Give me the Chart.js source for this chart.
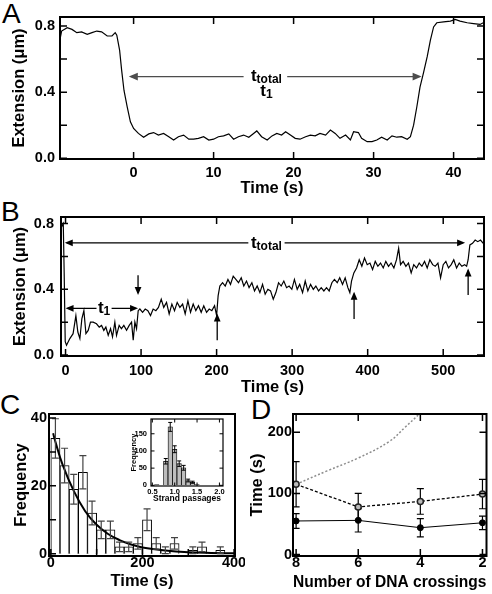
<!DOCTYPE html>
<html>
<head>
<meta charset="UTF-8">
<title>Strand passage traces</title>
<script src="https://cdn.jsdelivr.net/npm/chart.js"></script>
<style>
    body { margin: 0; background: #fff; width: 492px; height: 594px; position: relative; overflow: hidden;
           font-family: "Liberation Sans", Arial, sans-serif; }
    canvas { position: absolute; }
    .panel { position: absolute; font-size: 28px; line-height: 28px; color: #000; }
</style>
</head>
<body>
<div class="panel" style="left:2px;top:0px">A</div>
<div class="panel" style="left:1px;top:198px">B</div>
<div class="panel" style="left:0px;top:391px">C</div>
<div class="panel" style="left:251px;top:396px">D</div>

<canvas id="chA" width="492" height="198" style="left:0;top:0"></canvas>
<canvas id="chB" width="492" height="200" style="left:0;top:197px"></canvas>
<canvas id="chC" width="245" height="195" style="left:0;top:396px"></canvas>
<canvas id="chInset" width="100" height="88" style="left:125px;top:416px"></canvas>
<canvas id="chD" width="247" height="196" style="left:245px;top:396px"></canvas>

<script>
// ---- panel A : single passage trace
const aTime = [-9.2,-9.0,-8.3,-7.7,-7.1,-6.5,-5.8,-5.2,-4.6,-4.0,-3.3,-2.7,-2.3,-2.1,-1.75,-1.5,-1.2,-0.8,-0.4,0,
    0.6,1.25,1.9,2.5,3.1,3.75,4.4,5.0,5.6,6.25,6.9,7.5,8.1,8.75,9.4,10,10.6,11.25,11.9,12.5,
    13.1,13.75,14.4,15,15.4,16,16.7,17.3,17.9,18.5,19,19.6,20.2,20.8,21.5,22.1,22.7,23.3,24,24.6,
    25.2,25.8,26.5,27.1,27.5,28.1,28.5,29.2,29.8,30.4,31,31.7,32.3,32.9,33.5,34.2,34.6,35,35.4,35.8,
    36.25,36.7,37.1,37.5,37.9,38.75,39.6,40.2,40.8,41.7,42.5,43.3,43.9];
const aExt = [0.72,0.77,0.79,0.78,0.76,0.765,0.75,0.76,0.77,0.765,0.74,0.74,0.76,0.745,0.655,0.535,0.41,0.31,0.22,0.18,
    0.15,0.127,0.147,0.155,0.14,0.15,0.13,0.11,0.13,0.14,0.115,0.115,0.12,0.13,0.11,0.115,0.13,0.135,0.147,0.115,
    0.13,0.14,0.127,0.15,0.165,0.13,0.11,0.135,0.15,0.14,0.16,0.14,0.12,0.115,0.13,0.14,0.135,0.15,0.14,0.17,
    0.15,0.12,0.14,0.11,0.16,0.155,0.12,0.1,0.1,0.11,0.127,0.11,0.135,0.127,0.13,0.115,0.13,0.2,0.31,0.43,
    0.52,0.615,0.715,0.795,0.82,0.825,0.83,0.84,0.83,0.82,0.815,0.81,0.825];
const aXTicks = [0, 10, 20, 30, 40];
const aXLabels = ['0', '10', '20', '30', '40'];
const extTicks = [0, 0.2, 0.4, 0.6, 0.8];
const extLabels = ['0.0', '', '0.4', '', '0.8'];
const aArrowX = [-0.6, 36.0], aArrowY = 0.494, aGap = [13.75, 19.2], aLabelX = 16.6;

// ---- panel B : stepwise trace
const bTime = [-5.3,-3,-1.8,-0.4,1.3,5.7,10,13.7,16.3,19,
    21.6,24.3,27,30,33,36.6,41,44.6,47.7,50.7,
    53.4,56.5,59.6,62.2,65.3,67.5,71,74,77.2,80.8,
    84.3,87.4,89.6,91.8,94,96.2,98.4,102,105.5,109,
    112.5,116,119.6,123,126.7,130,133.7,137.2,140.8,144.3,
    147.8,151.4,155,158.4,162,165.5,169,172.5,176,179.6,
    183,186.7,190.2,193.7,197.3,200,202,204.3,207.9,211.4,
    215,218.4,222,225.5,229,232.6,236,239.6,243,246.7,
    250.2,253.7,257.3,260.8,264.3,267.9,271.4,275,278.5,282,
    285.5,289,292.6,296,299.6,303,306.7,310,313.8,317.3,
    320.8,324.4,328,331.4,335,338.5,342,345.5,349,352.6,
    356,359.7,363,366.7,370.2,373.8,376.4,378.6,381.7,385.3,
    388.8,392.3,395.8,399.4,403,406.5,410,413.5,417,420.6,
    424,427.6,431,434.7,438.2,441,443.5,447,450.6,454,
    457.6,461,464.7,468.2,471.8,475.3,478.8,482.3,486,489.4,
    493,496.5,500,503.5,507,510.6,514,517.7,521.2,524.7,
    528.3,531,533,535.3,538.8,542.3,545.8,549.4,553];
const bExt = [0.78,0.8,0.5,0.081,0.06,0.1,0.13,0.24,0.14,0.1,
    0.22,0.27,0.13,0.15,0.2,0.2,0.19,0.17,0.18,0.15,
    0.17,0.12,0.16,0.11,0.2,0.12,0.18,0.16,0.18,0.15,
    0.18,0.2,0.09,0.2,0.16,0.27,0.28,0.26,0.28,0.27,
    0.24,0.28,0.27,0.29,0.34,0.29,0.32,0.25,0.31,0.27,
    0.32,0.29,0.31,0.25,0.33,0.26,0.31,0.27,0.3,0.26,
    0.3,0.26,0.28,0.27,0.3,0.24,0.36,0.42,0.44,0.42,
    0.46,0.43,0.48,0.46,0.44,0.47,0.42,0.45,0.41,0.44,
    0.39,0.42,0.38,0.43,0.37,0.4,0.39,0.34,0.38,0.44,
    0.42,0.45,0.41,0.42,0.4,0.46,0.4,0.43,0.38,0.45,
    0.39,0.43,0.4,0.42,0.39,0.41,0.39,0.41,0.39,0.44,
    0.46,0.44,0.47,0.43,0.47,0.41,0.38,0.45,0.5,0.53,
    0.58,0.54,0.59,0.55,0.56,0.52,0.57,0.54,0.56,0.53,
    0.57,0.54,0.56,0.53,0.58,0.65,0.55,0.57,0.54,0.56,
    0.5,0.55,0.53,0.56,0.54,0.57,0.53,0.58,0.55,0.54,
    0.56,0.47,0.55,0.57,0.53,0.55,0.58,0.53,0.56,0.54,
    0.55,0.54,0.58,0.67,0.68,0.7,0.69,0.7,0.68];
const bXTicks = [0, 100, 200, 300, 400, 500];
const bXLabels = ['0', '100', '200', '300', '400', '500'];
const bTotalX = [-1, 529], bTotalY = 0.683, bTotalGap = [242, 290], bTotalLabelX = 266;
const bT1X = [0, 96], bT1Y = 0.284, bT1Gap = [41, 61], bT1LabelX = 51;
const bStepX = [96, 200.8, 382, 533];
const bStepFrom = [0.486, 0.09, 0.219, 0.365];
const bStepTo = [0.365, 0.253, 0.385, 0.527];

// ---- panel C : dwell time histogram
const cBinMid = [10,30,50,70,90,110,130,150,170,190,210,230,250,270,290,310,330,350,370,390];
const cCount = [34,26,19,24,12,7,7,2,2,3,10,3,1,3,0,1,2,0,1,0];
const cErr = [5.8,5.1,4.4,4.9,3.5,2.6,2.6,1.4,1.4,1.7,3.2,1.7,1,1.7,0,1,1.4,0,1,0];
const cFitT = [5,10,25,50,75,100,125,150,175,200,250,300,350,400];
const cFitY = [35.5,33,26.5,18.5,12.5,8.5,5.8,4,2.7,1.8,0.9,0.4,0.2,0.1];
const cXTicks = [0, 100, 200, 300, 400];
const cXLabels = ['0', '', '200', '', '400'];
const cYTicks = [0, 10, 20, 30, 40];
const cYLabels = ['0', '', '20', '', '40'];

// ---- inset : strand passages
const insMid = [0.6,0.7,0.8,0.9,1.0,1.1,1.2,1.3,1.4,1.5];
const insCount = [2,0,70,170,105,63,51,14,9,2];
const insErr = [0,0,8,13,10,8,7,4,3,0];
const insXTicks = [0.5, 1.0, 1.5, 2.0];
const insXLabels = ['0.5', '1.0', '1.5', '2.0'];
const insYTicks = [0, 50, 100, 150];
const insYLabels = ['0', '50', '100', '150'];

// ---- panel D : time vs crossings
const dCross = [8, 6, 4, 2];
const dFirst = [55, 56, 44, 52];
const dFirstErr = [12, 19, 15, 11];
const dTotal = [115, 78, 87, 99];
const dTotalErr = [37, 22, 21, 24];
const dGuideX = [8, 7, 6, 5, 4.5, 4, 3.8];
const dGuideY = [115, 137, 158, 185, 208, 232, 245];
const dYTicks = [0, 100, 200];
const dYLabels = ['0', '100', '200'];
const dXLabels = ['8', '6', '4', '2'];

Chart.defaults.font.family = "'Liberation Sans', Arial, sans-serif";
Chart.defaults.color = '#000';
const FAM = "'Liberation Sans', Arial, sans-serif";
const tickFont = { size: 14.5, weight: 'bold' };
const titleFont = { size: 16.5, weight: 'bold' };

const pts = (xs, ys) => xs.slice(0, Math.min(xs.length, ys.length)).map((x, i) => ({ x: x, y: ys[i] }));

function axis(o) {
    return {
        type: 'linear', min: o.min, max: o.max, reverse: !!o.reverse, bounds: 'data', offset: false,
        grid: { display: false, drawTicks: false }, border: { display: false },
        afterBuildTicks: s => { s.ticks = o.ticks.map(v => ({ value: v })); },
        afterFit: s => {
            if (o.w != null) s.width = o.w; else s.height = o.h;
            s.paddingLeft = s.paddingRight = s.paddingTop = s.paddingBottom = 0;
        },
        ticks: { font: o.font || tickFont, color: '#000', padding: o.pad, autoSkip: false,
                 maxRotation: 0, minRotation: 0, callback: (v, i) => o.labels[i] },
        title: { display: true, text: o.title, font: o.tfont || titleFont, color: '#000', padding: o.tpad || 0 }
    };
}

// box + inward ticks on the sides asked for
const frameTicks = {
    id: 'frameTicks',
    beforeDatasetsDraw(chart, args, opts) {
        if (opts.fill) {
            const a = chart.chartArea;
            chart.ctx.fillStyle = opts.fill;
            chart.ctx.fillRect(a.left, a.top, a.right - a.left, a.bottom - a.top);
        }
    },
    afterDraw(chart, args, opts) {
        const { ctx, chartArea: a, scales } = chart;
        const len = opts.len || 7;
        ctx.save();
        ctx.strokeStyle = '#000';
        ctx.lineWidth = opts.tickWidth || 1.5;
        ctx.beginPath();
        scales.x.ticks.forEach(t => {
            const px = scales.x.getPixelForValue(t.value);
            ctx.moveTo(px, a.bottom); ctx.lineTo(px, a.bottom - len);
            if (opts.mirror) { ctx.moveTo(px, a.top); ctx.lineTo(px, a.top + len); }
        });
        scales.y.ticks.forEach(t => {
            const py = scales.y.getPixelForValue(t.value);
            ctx.moveTo(a.left, py); ctx.lineTo(a.left + len, py);
            if (opts.mirror) { ctx.moveTo(a.right, py); ctx.lineTo(a.right - len, py); }
        });
        ctx.stroke();
        ctx.lineWidth = opts.frame || 2;
        ctx.strokeRect(a.left, a.top, a.right - a.left, a.bottom - a.top);
        ctx.restore();
    }
};

function drawErrors(chart, after) {
    const ctx = chart.ctx, ys = chart.scales.y, a = chart.chartArea;
    chart.data.datasets.forEach((ds, i) => {
        if (!ds.errors || !!ds.errAfter !== after) return;
        const meta = chart.getDatasetMeta(i);
        ctx.save();
        ctx.beginPath(); ctx.rect(a.left, a.top, a.right - a.left, a.bottom - a.top); ctx.clip();
        ctx.strokeStyle = ds.errColor || '#000';
        ctx.lineWidth = ds.errWidth || 1.2;
        ctx.beginPath();
        meta.data.forEach((el, j) => {
            const e = ds.errors[j];
            if (!e) return;
            const v = ds.data[j].y, c = ds.cap || 3.5;
            const y1 = ys.getPixelForValue(v + e), y2 = ys.getPixelForValue(v - e);
            ctx.moveTo(el.x, y1); ctx.lineTo(el.x, y2);
            ctx.moveTo(el.x - c, y1); ctx.lineTo(el.x + c, y1);
            ctx.moveTo(el.x - c, y2); ctx.lineTo(el.x + c, y2);
        });
        ctx.stroke();
        ctx.restore();
    });
}
const errBars = {
    id: 'errBars',
    beforeDatasetsDraw(chart) { drawErrors(chart, false); },
    afterDatasetsDraw(chart) { drawErrors(chart, true); }
};

function head(ctx, x, y, dx, dy, h) {
    const w = h * 0.42;
    ctx.beginPath();
    ctx.moveTo(x, y);
    ctx.lineTo(x - dx * h - dy * w, y - dy * h + dx * w);
    ctx.lineTo(x - dx * h + dy * w, y - dy * h - dx * w);
    ctx.closePath();
    ctx.fill();
}

function hArrow(chart, x1, x2, y, g1, g2, color, h) {
    const { ctx, scales } = chart;
    const p1 = scales.x.getPixelForValue(x1), p2 = scales.x.getPixelForValue(x2);
    const q1 = scales.x.getPixelForValue(g1), q2 = scales.x.getPixelForValue(g2);
    const py = scales.y.getPixelForValue(y);
    ctx.strokeStyle = color; ctx.fillStyle = color; ctx.lineWidth = 1.3;
    ctx.beginPath();
    ctx.moveTo(p1 + 2, py); ctx.lineTo(q1, py);
    ctx.moveTo(q2, py); ctx.lineTo(p2 - 2, py);
    ctx.stroke();
    head(ctx, p1, py, -1, 0, h);
    head(ctx, p2, py, 1, 0, h);
    return py;
}

function vArrow(chart, x, yFrom, yTo, h) {
    const { ctx, scales } = chart;
    const px = scales.x.getPixelForValue(x);
    const a = scales.y.getPixelForValue(yFrom), b = scales.y.getPixelForValue(yTo);
    const dir = b > a ? 1 : -1;
    ctx.strokeStyle = '#000'; ctx.fillStyle = '#000'; ctx.lineWidth = 1.3;
    ctx.beginPath(); ctx.moveTo(px, a); ctx.lineTo(px, b - dir * 2); ctx.stroke();
    head(ctx, px, b, 0, dir, h);
}

function subText(chart, xv, base, main, sub) {
    const ctx = chart.ctx;
    const x = chart.scales.x.getPixelForValue(xv);
    ctx.textBaseline = 'alphabetic'; ctx.textAlign = 'left'; ctx.fillStyle = '#000';
    ctx.font = 'bold 17px ' + FAM;
    const w1 = ctx.measureText(main).width;
    ctx.font = 'bold 12px ' + FAM;
    const w2 = ctx.measureText(sub).width;
    const sx = x - (w1 + w2) / 2;
    ctx.font = 'bold 17px ' + FAM;
    ctx.fillText(main, sx, base);
    ctx.font = 'bold 12px ' + FAM;
    ctx.fillText(sub, sx + w1, base + 2);
}

const annA = {
    id: 'annA',
    afterDatasetsDraw(chart) {
        const ctx = chart.ctx;
        ctx.save();
        const py = hArrow(chart, aArrowX[0], aArrowX[1], aArrowY, aGap[0], aGap[1], '#4d4d4d', 9);
        subText(chart, aLabelX, py + 4, 't', 'total');
        subText(chart, aLabelX, py + 19, 't', '1');
        ctx.restore();
    }
};

const annB = {
    id: 'annB',
    afterDatasetsDraw(chart) {
        const ctx = chart.ctx;
        ctx.save();
        let py = hArrow(chart, bTotalX[0], bTotalX[1], bTotalY, bTotalGap[0], bTotalGap[1], '#000', 8);
        subText(chart, bTotalLabelX, py + 5, 't', 'total');
        py = hArrow(chart, bT1X[0], bT1X[1], bT1Y, bT1Gap[0], bT1Gap[1], '#000', 8);
        subText(chart, bT1LabelX, py + 5, 't', '1');
        bStepX.forEach((x, i) => vArrow(chart, x, bStepFrom[i], bStepTo[i], 8));
        ctx.restore();
    }
};

const common = {
    responsive: false, animation: false, events: [],
    plugins: { legend: { display: false }, tooltip: { enabled: false } }
};

// A
new Chart(document.getElementById('chA'), {
    type: 'line',
    data: { datasets: [{ data: pts(aTime, aExt), borderColor: '#000', borderWidth: 1.2, pointRadius: 0, tension: 0 }] },
    options: Object.assign({}, common, {
        layout: { padding: { top: 17, right: 8, left: 0, bottom: 0 } },
        plugins: Object.assign({}, common.plugins, { frameTicks: { mirror: true } }),
        scales: {
            x: axis({ min: -9.2, max: 43.8, ticks: aXTicks, labels: aXLabels, h: 39, pad: 5, title: 'Time (s)' }),
            y: axis({ min: -0.005, max: 0.855, ticks: extTicks, labels: extLabels, w: 60, pad: 5, title: 'Extension (\u03bcm)', tpad: 10 })
        }
    }),
    plugins: [frameTicks, annA]
});

// B
new Chart(document.getElementById('chB'), {
    type: 'line',
    data: { datasets: [{ data: pts(bTime, bExt), borderColor: '#000', borderWidth: 1.2, pointRadius: 0, tension: 0 }] },
    options: Object.assign({}, common, {
        layout: { padding: { top: 20, right: 8, left: 0, bottom: 0 } },
        plugins: Object.assign({}, common.plugins, { frameTicks: { mirror: true } }),
        scales: {
            x: axis({ min: -6, max: 554, ticks: bXTicks, labels: bXLabels, h: 41, pad: 6, title: 'Time (s)' }),
            y: axis({ min: -0.006, max: 0.84, ticks: extTicks, labels: extLabels, w: 61, pad: 7, title: 'Extension (\u03bcm)', tpad: 10.5 })
        }
    }),
    plugins: [frameTicks, annB]
});

// C
new Chart(document.getElementById('chC'), {
    type: 'bar',
    data: {
        datasets: [
            { type: 'line', data: pts(cFitT, cFitY), borderColor: '#000', borderWidth: 2, pointRadius: 0, tension: 0.4 },
            { type: 'bar', data: pts(cBinMid, cCount), backgroundColor: '#fff', borderColor: '#000', borderWidth: 1,
              barPercentage: 1, categoryPercentage: 1, errors: cErr, errAfter: true, errColor: '#444', cap: 3.5 }
        ]
    },
    options: Object.assign({}, common, {
        layout: { padding: { top: 18, right: 10, left: 0, bottom: 0 } },
        plugins: Object.assign({}, common.plugins, { frameTicks: { mirror: false } }),
        scales: {
            x: axis({ min: -4, max: 402, ticks: cXTicks, labels: cXLabels, h: 35, pad: -2, title: 'Time (s)' }),
            y: axis({ min: -0.7, max: 41.2, ticks: cYTicks, labels: cYLabels, w: 49, pad: 2, title: 'Frequency', tpad: 12 })
        }
    }),
    plugins: [frameTicks, errBars]
});

// inset
const insTick = { size: 7.5, weight: 'bold' };
const insTitle = { size: 8.5, weight: 'bold' };
new Chart(document.getElementById('chInset'), {
    type: 'bar',
    data: {
        datasets: [{ data: pts(insMid, insCount), backgroundColor: '#bdbdbd', borderColor: '#000', borderWidth: 0.8,
                     barPercentage: 1, categoryPercentage: 1, errors: insErr, errAfter: true, cap: 2, errWidth: 1 }]
    },
    options: Object.assign({}, common, {
        layout: { padding: { top: 3, right: 2, left: 0, bottom: 0 } },
        plugins: Object.assign({}, common.plugins, { frameTicks: { mirror: true, len: 3.5, frame: 1.2, tickWidth: 1, fill: '#fff' } }),
        scales: {
            x: axis({ min: 0.47, max: 2.08, ticks: insXTicks, labels: insXLabels, h: 18, pad: 1, title: 'Strand passages',
                      font: insTick, tfont: insTitle }),
            y: axis({ min: -2, max: 193, ticks: insYTicks, labels: insYLabels, w: 26, pad: 4, title: 'Frequency', tpad: 4.5,
                      font: insTick, tfont: { size: 7.5, weight: 'bold' } })
        }
    }),
    plugins: [frameTicks, errBars]
});

// D
new Chart(document.getElementById('chD'), {
    type: 'line',
    data: {
        datasets: [
            { data: pts(dCross, dFirst), borderColor: '#000', borderWidth: 1, pointRadius: 3,
              pointBackgroundColor: '#000', pointBorderColor: '#000', errors: dFirstErr, cap: 3.5 },
            { data: pts(dCross, dTotal), borderColor: '#000', borderWidth: 1.3, borderDash: [3, 2], pointRadius: 3,
              pointBackgroundColor: '#bbb', pointBorderColor: '#222', pointBorderWidth: 1.5, errors: dTotalErr, cap: 3.5 },
            { data: pts(dGuideX, dGuideY), borderColor: '#8c8c8c', borderWidth: 1.5, borderDash: [2, 2], pointRadius: 0, tension: 0.4 }
        ]
    },
    options: Object.assign({}, common, {
        layout: { padding: { top: 18, right: 2, left: 0, bottom: 0 } },
        plugins: Object.assign({}, common.plugins, { frameTicks: { mirror: true } }),
        scales: {
            x: axis({ min: 1.87, max: 8.1, reverse: true, ticks: dCross, labels: dXLabels, h: 36, pad: -2,
                      title: 'Number of DNA crossings' }),
            y: axis({ min: -2.3, max: 230, ticks: dYTicks, labels: dYLabels, w: 48, pad: 1, title: 'Time (s)', tpad: 2.6 })
        }
    }),
    plugins: [frameTicks, errBars]
});
</script>
</body>
</html>
